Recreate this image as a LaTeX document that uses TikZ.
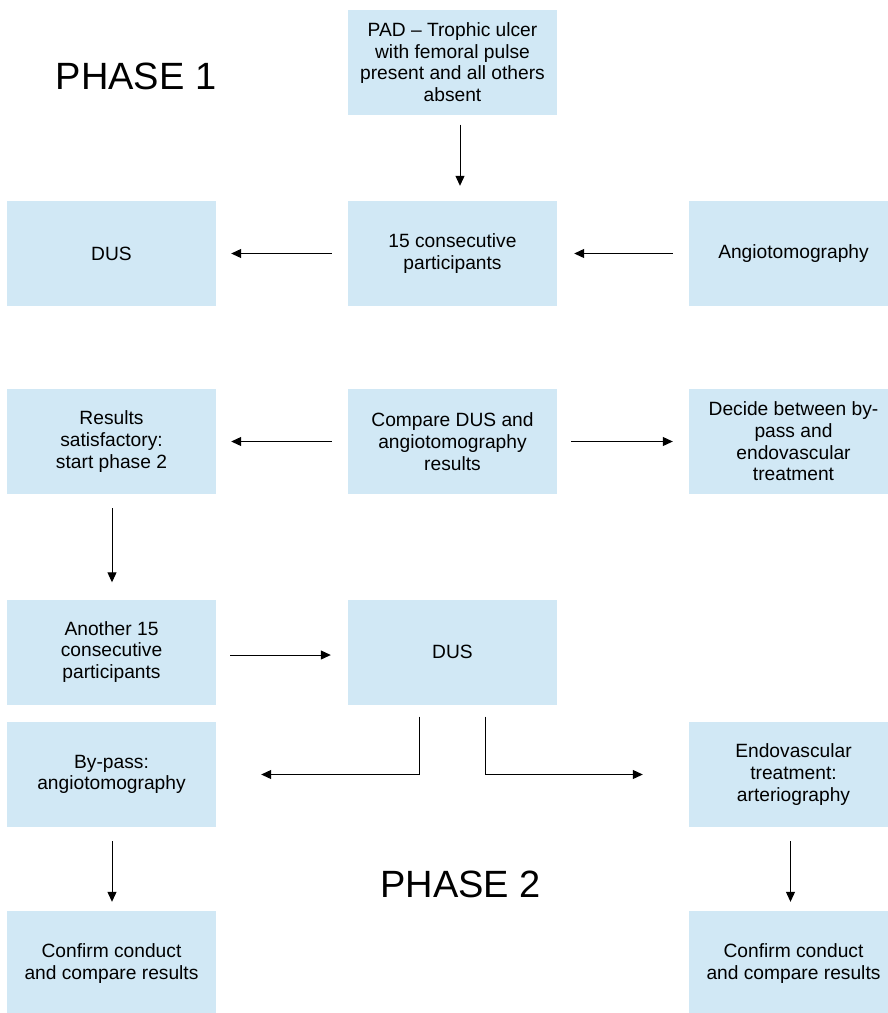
\documentclass[tikz,border=0pt]{standalone}
\usepackage{fontspec}
\setmainfont{Liberation Sans}
\usetikzlibrary{arrows.meta,calc}
\definecolor{boxblue}{RGB}{209,232,245}
\tikzset{
  box/.style={fill=boxblue, draw=none, minimum width=209pt, minimum height=105pt, inner sep=0pt, align=center, font=\fontsize{19.2}{21.7}\selectfont},
  conn/.style={draw=black, line width=1pt, -{Triangle[length=10pt,width=9pt]}},
  phase/.style={font=\fontsize{38}{44}\selectfont, inner sep=0pt}
}
\begin{document}
\begin{tikzpicture}[x=1pt,y=-1pt]
\useasboundingbox (0,0) rectangle (888,1013);
\clip (0,0) rectangle (888,1013);
\fill[white] (0,0) rectangle (888,1013);
% row 1
\node[box] (pad) at (452.5,62) {PAD -- Trophic ulcer\\with femoral pulse\\present and all others\\absent};
\node[phase] (ph1) at (136,76) {PHASE 1};
% row 2
\node[box] (dus1) at (111.5,253.5) {DUS};
\node[box] (c15) at (452.5,253.5) {15 consecutive\\participants};
\node[box] (angio) at (793.5,253.5) {Angiotomography};
% row 3
\node[box] (res) at (111.5,441.5) {Results\\satisfactory:\\start phase 2};
\node[box] (cmp) at (452.5,441.5) {Compare DUS and\\angiotomography\\results};
\node[box] (dec) at (793.5,441.5) {Decide between by-\\pass and\\endovascular\\treatment};
% row 4
\node[box] (ano) at (111.5,652) {Another 15\\consecutive\\participants};
\node[box] (dus2) at (452.5,652) {DUS};
% row 5
\node[box] (byp) at (111.5,774.5) {By-pass:\\angiotomography};
\node[box] (endo) at (793.5,774.5) {Endovascular\\treatment:\\arteriography};
\node[phase] (ph2) at (460.5,884) {PHASE 2};
% row 6
\node[box] (conf1) at (111.5,963.5) {Confirm conduct\\and compare results};
\node[box] (conf2) at (793.5,963.5) {Confirm conduct\\and compare results};
% connectors
\draw[conn] ([xshift=7.5pt,yshift=-10pt]pad.south) -- ([xshift=7.5pt,yshift=15pt]c15.north);
\draw[conn] ([xshift=-16pt]c15.west) -- ([xshift=15pt]dus1.east);
\draw[conn] ([xshift=-16pt]angio.west) -- ([xshift=17pt]c15.east);
\draw[conn] ([xshift=-16pt]cmp.west) -- ([xshift=15pt]res.east);
\draw[conn] ([xshift=14pt]cmp.east) -- ([xshift=-16pt]dec.west);
\draw[conn] ([xshift=0.5pt,yshift=-14pt]res.south) -- ([xshift=0.5pt,yshift=17pt]ano.north);
\draw[conn] ([xshift=14pt,yshift=-3pt]ano.east) -- ([xshift=-17pt,yshift=-3pt]dus2.west);
\draw[conn] ([xshift=-33pt,yshift=-12pt]dus2.south) |- ([xshift=45pt]byp.east);
\draw[conn] ([xshift=33pt,yshift=-12pt]dus2.south) |- ([xshift=-46pt]endo.west);
\draw[conn] ([xshift=0.5pt,yshift=-14pt]byp.south) -- ([xshift=0.5pt,yshift=9pt]conf1.north);
\draw[conn] ([xshift=-3pt,yshift=-14pt]endo.south) -- ([xshift=-3pt,yshift=9pt]conf2.north);
\end{tikzpicture}
\end{document}
